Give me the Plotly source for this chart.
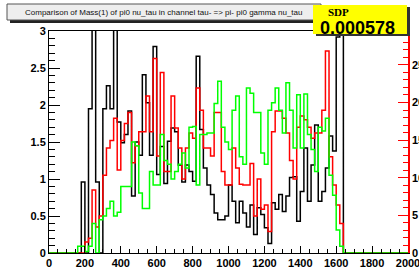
import plotly.graph_objects as go

# ---- data (bin contents, bins of width 20 starting at 160) ----
bin_start = 160
bin_width = 20
n_bins_total = 100   # 0 .. 2000

black_vals = [0, 0.96, 0, 1.95, 3.5, 0.96, 0, 1.95, 2.26, 1.95,
              3.5, 1.77, 1.49, 1.6, 1.92, 0.77, 1.5, 1.32, 2.41, 2.03,
              1.32, 2.79, 1.06, 1.44, 0.94, 1.51, 1.69, 1.64, 1.19, 0.96,
              1.19, 1.10, 0.97, 2.66, 1.67, 1.15, 0.92, 0.79, 0.54, 0.45,
              0.45, 0.5, 0.92, 0.7, 0.41, 0.7, 0.54, 0.35, 0.65, 0.25,
              0.61, 0.52, 0.34, 0.13, 0.68, 0.59, 0.79, 0.56, 0.77, 1.02,
              1.03, 0.43, 0.83, 1.42, 0.7, 1.19, 1.73, 0.7, 0.83, 1.15,
              1.58, 1.38, 2.92, 3.5]
red_vals = [0, 0, 0.15, 0.2, 0.85, 0.35, 0.5, 1.05, 1.42, 1.52,
            1.82, 1.12, 1.52, 1.75, 1.9, 1.22, 1.45, 1.64, 1.64, 2.12,
            1.64, 2.63, 1.31, 2.44, 1.1, 1.1, 2.12, 1.69, 1.42, 1.0,
            1.42, 1.62, 1.55, 2.23, 1.93, 1.42, 1.42, 1.31, 1.9, 1.9,
            1.1, 0.92, 0.92, 1.42, 1.15, 0.93, 0.92, 0.92, 1.21, 0.5,
            1.0, 0.59, 0.65, 0.29, 1.64, 1.92, 1.92, 1.82, 1.62, 1.25,
            1.0, 1.7, 1.85, 1.8, 1.7, 1.55, 1.62, 1.62, 1.93, 2.73,
            1.3, 0.92, 0.65, 0.4]
green_vals = [0.09, 0.09, 0.02, 0.09, 0.4, 0.0, 0.45, 0.5, 0.6, 0.7,
              0.5, 0.55, 0.9, 0.9, 0.9, 1.5, 1.45, 0.81, 0.6, 0.6,
              1.1, 0.92, 0.92, 1.6, 1.25, 1.2, 1.0, 1.1, 1.2, 1.35,
              1.15, 1.7, 1.71, 0.92, 1.6, 1.6, 1.62, 1.62, 2.02, 2.32,
              1.7, 1.5, 1.4, 1.93, 2.12, 1.3, 1.2, 2.23, 2.16, 1.9,
              1.9, 1.35, 1.2, 1.93, 2.03, 2.23, 1.93, 1.62, 2.3, 1.93,
              1.42, 2.14, 1.42, 2.15, 1.6, 1.4, 1.1, 1.7, 1.65, 1.82,
              1.05, 0.78, 0.31, 0.09]

x_ticks = [0, 200, 400, 600, 800, 1000, 1200, 1400, 1600, 1800, 2000]
y_ticks = [0, 0.5, 1, 1.5, 2, 2.5, 3]
y_ticktext = ["0", "0.5", "1", "1.5", "2", "2.5", "3"]
y2_ticks = [0, 5, 10, 15, 20, 25]
title_text = "Comparison of Mass(1) of pi0 nu_tau in channel tau- => pi- pi0 gamma nu_tau"
sdp_label = "SDP"
sdp_value = "0.000578"

# ---- build full step arrays ----
def full_hist(vals):
    first = bin_start // bin_width
    arr = [0.0] * n_bins_total
    for i, v in enumerate(vals):
        arr[first + i] = v
    return arr

edges = [i * bin_width for i in range(n_bins_total + 1)]

def step_xy(vals):
    full = full_hist(vals)
    return edges, full + [full[-1]]

W, H = 419, 270
ML, MR, MT, MB = 49, 11, 31, 17
PW, PH = W - ML - MR, H - MT - MB

def px(x):
    return (x - ML) / PW

def py(y):
    return (H - MB - y) / PH

fig = go.Figure()
for vals, col in [(black_vals, "#000000"), (red_vals, "#ff0000"), (green_vals, "#00ff00")]:
    xs, ys = step_xy(vals)
    fig.add_trace(go.Scatter(x=xs, y=ys, mode="lines", line=dict(color=col, width=1.5, shape="hv"),
                             hoverinfo="skip", showlegend=False))

# invisible trace to activate the right axis
fig.add_trace(go.Scatter(x=[None], y=[None], yaxis="y2", mode="lines", showlegend=False, hoverinfo="skip"))

tickfont = dict(family="Liberation Sans", size=11, color="black", weight="bold")

fig.update_layout(
    width=W, height=H,
    margin=dict(l=ML, r=MR, t=MT, b=MB, pad=0),
    paper_bgcolor="white", plot_bgcolor="white",
    showlegend=False,
    xaxis=dict(range=[0, 2000], tickvals=x_ticks, ticks="inside", ticklen=7, tickcolor="black",
               showline=True, linecolor="black", linewidth=1, mirror=True, showgrid=False, zeroline=False,
               tickfont=tickfont, automargin=False, ticklabeloverflow="allow",
               minor=dict(dtick=50, ticks="inside", ticklen=4, tickcolor="black", showgrid=False)),
    yaxis=dict(range=[0, 3], tickvals=y_ticks, ticktext=y_ticktext,
               ticks="inside", ticklen=11, tickcolor="black",
               showline=True, linecolor="black", linewidth=1, showgrid=False, zeroline=False,
               tickfont=tickfont, automargin=False, ticklabeloverflow="allow",
               minor=dict(dtick=0.1, ticks="inside", ticklen=6, tickcolor="black", showgrid=False)),
    yaxis2=dict(range=[0, 29.5], overlaying="y", side="right", tickvals=y2_ticks,
                ticks="inside", ticklen=10, tickcolor="#ff0000",
                showline=True, linecolor="#ff0000", linewidth=1.5, showgrid=False, zeroline=False,
                tickfont=tickfont, automargin=False, ticklabeloverflow="allow",
                minor=dict(dtick=1, ticks="inside", ticklen=5, tickcolor="#ff0000", showgrid=False)),
)

shapes = []
# title pave with shadow
shapes.append(dict(type="rect", xref="paper", yref="paper", x0=px(10), x1=px(324), y0=py(23), y1=py(6),
                   fillcolor="#222222", line=dict(width=0), layer="above"))
shapes.append(dict(type="rect", xref="paper", yref="paper", x0=px(7), x1=px(321), y0=py(20), y1=py(4),
                   fillcolor="#eeeeee", line=dict(color="#555555", width=1), layer="above"))
# SDP pave with shadow
shapes.append(dict(type="rect", xref="paper", yref="paper", x0=px(316), x1=px(410), y0=py(36), y1=py(7),
                   fillcolor="#333333", line=dict(width=0), layer="above"))
shapes.append(dict(type="rect", xref="paper", yref="paper", x0=px(313), x1=px(407), y0=py(34), y1=py(5),
                   fillcolor="#ffff00", line=dict(width=0), layer="above"))
fig.update_layout(shapes=shapes)

fig.add_annotation(x=px(164), y=py(12.5), xref="paper", yref="paper", text=title_text, showarrow=False,
                   xanchor="center", yanchor="middle",
                   font=dict(family="Liberation Sans", size=8, color="#111111"))
fig.add_annotation(x=px(326), y=py(12), xref="paper", yref="paper", text="<b>" + sdp_label + "</b>",
                   showarrow=False, xanchor="left", yanchor="middle",
                   font=dict(family="Liberation Serif", size=11, color="black"))
fig.add_annotation(x=px(318), y=py(27.5), xref="paper", yref="paper", text="<b>" + sdp_value + "</b>",
                   showarrow=False, xanchor="left", yanchor="middle",
                   font=dict(family="Liberation Sans", size=18, color="black"))

fig.write_html("out.html", config={"displayModeBar": False},
               post_script="document.body.style.margin='0';document.body.style.padding='0';"
                           "document.documentElement.style.overflow='hidden';")
